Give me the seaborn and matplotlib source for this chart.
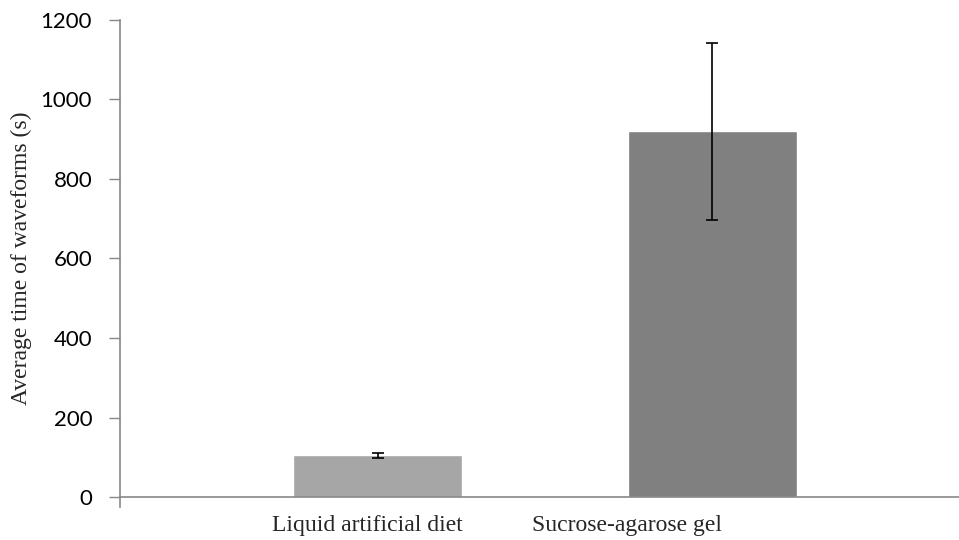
import pandas as pd
import matplotlib.pyplot as plt
import seaborn as sns

# data
categories = ["Liquid artificial diet", "Sucrose-agarose gel"]
mean_time = [105, 920]
err_time = [6, 222]
bar_colors = ["#A6A6A6", "#808080"]

df = pd.DataFrame({"diet": categories, "time": mean_time})

sns.set_style("white")
plt.rcParams['font.family'] = ['Lato', 'DejaVu Sans']

fig = plt.figure(figsize=(9.59, 5.4), dpi=100)
ax = fig.add_axes([0.1251, 0.0796, 0.8749, 0.8834])

sns.barplot(x="diet", y="time", data=df, hue="diet", palette=bar_colors,
            legend=False, width=0.505, errorbar=None, ax=ax)
ax.errorbar(range(len(categories)), mean_time, yerr=err_time, fmt="none",
            ecolor="black", elinewidth=1.2, capsize=4.5, capthick=1.2)

ax.set_xlim(-0.769, 1.736)
ax.set_ylim(0, 1200)
ax.set_yticks(range(0, 1201, 200))
ax.tick_params(axis="y", labelsize=16, labelcolor="black", length=8, width=1,
               color="#888888", direction="out", pad=12, left=True)

# category labels sit a little left of the bars in the original
ax.set_xticks([-0.031, 0.745])
ax.set_xticklabels(categories, family=["Liberation Serif"], fontsize=17)
ax.tick_params(axis="x", length=0, pad=13)

ax.set_xlabel("")
ax.set_ylabel("Average time of waveforms (s)", family=["Liberation Serif"],
              fontsize=17, labelpad=6)

for side in ["top", "right"]:
    ax.spines[side].set_visible(False)
for side in ["left", "bottom"]:
    ax.spines[side].set_color("#888888")
    ax.spines[side].set_linewidth(1.2)
ax.spines["left"].set_bounds(-25, 1200)

fig.savefig("out.png", dpi=100)
